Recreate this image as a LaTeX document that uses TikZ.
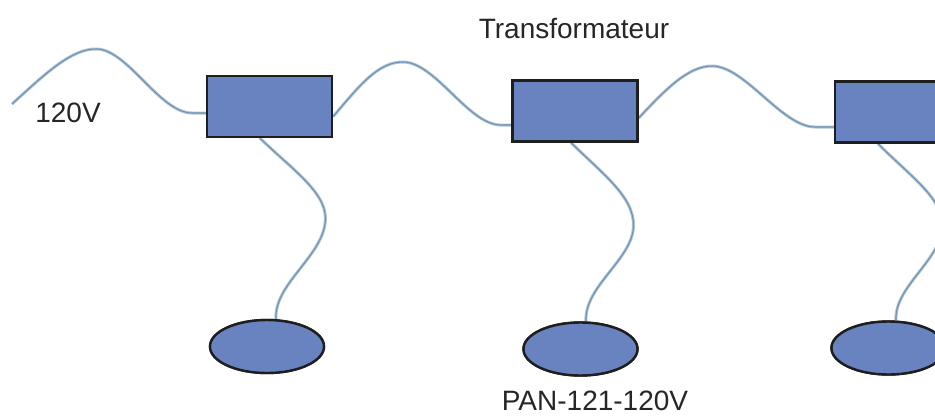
\documentclass[tikz,border=0pt]{standalone}
\usepackage{fontspec}
\setmainfont{Liberation Sans}
\usetikzlibrary{shapes.geometric,calc}
\definecolor{boxfill}{RGB}{104,131,191}
\definecolor{boxline}{RGB}{30,30,30}
\definecolor{wireout}{RGB}{175,196,213}
\definecolor{wirein}{RGB}{112,146,180}
\tikzset{
  xfo/.style={draw=boxline,fill=boxfill,line width=2.4pt,minimum width=125pt,minimum height=61pt,inner sep=0pt},
  lamp/.style={ellipse,draw=boxline,fill=boxfill,line width=2.4pt,minimum width=114pt,minimum height=53pt,inner sep=0pt},
  wire/.style={draw=wirein,line width=1.1pt,preaction={draw=wireout,line width=3pt}},
  lbl/.style={font=\fontsize{28}{30}\selectfont,text=black!85,inner sep=0pt}
}
\begin{document}
\begin{tikzpicture}[x=1pt,y=-1pt]
\clip (0,0) rectangle (935,416);
\fill[white] (0,0) rectangle (935,416);
\coordinate (start) at (12,104);
\node[xfo] (b1) at (269.5,106.5) {};
\node[xfo] (b2) at (575,111) {};
\node[xfo] (b3) at (897.5,112) {};
\node[lamp] (e1) at (267,346.5) {};
\node[lamp] (e2) at (580.5,349) {};
\node[lamp] (e3) at (888.5,348) {};
\draw[wire] (start) .. controls (45,74) and (72,48) .. (97,49)
  .. controls (128,50) and (160,113) .. (192,113) -- ($(b1.west)+(0,6.5)$);
\draw[wire] ($(b1.east)+(0,10)$) .. controls (360,85) and (378,62) .. (403,62)
  .. controls (435,62) and (468,124) .. (500,125) -- ($(b2.west)+(0,14)$);
\draw[wire] ($(b2.east)+(0,7)$) .. controls (665,90) and (688,66) .. (712,66)
  .. controls (745,66) and (782,127) .. (815,127) -- ($(b3.west)+(0,15)$);
\draw[wire] ($(b1.south)+(-9.5,0)$) .. controls (295,172) and (330,195) .. (325,224)
  .. controls (320,258) and (274,285) .. ($(e1.north)+(9,0)$);
\draw[wire] ($(b2.south)+(-4,0)$) .. controls (605,176) and (638,200) .. (633,231)
  .. controls (628,262) and (584,288) .. ($(e2.north)+(5.5,0)$);
\draw[wire] ($(b3.south)+(-19.5,0)$) .. controls (912,178) and (946,200) .. (942,230)
  .. controls (938,262) and (894,288) .. ($(e3.north)+(7.5,0)$);
\node[xfo] at (b1) {};
\node[xfo] at (b2) {};
\node[xfo] at (b3) {};
\node[lamp] at (e1) {};
\node[lamp] at (e2) {};
\node[lamp] at (e3) {};
\node[lbl] (t1) at (574,29) {Transformateur};
\node[lbl] (t2) at (68,113) {120V};
\node[lbl] (t3) at (595,401) {PAN-121-120V};
\end{tikzpicture}
\end{document}
